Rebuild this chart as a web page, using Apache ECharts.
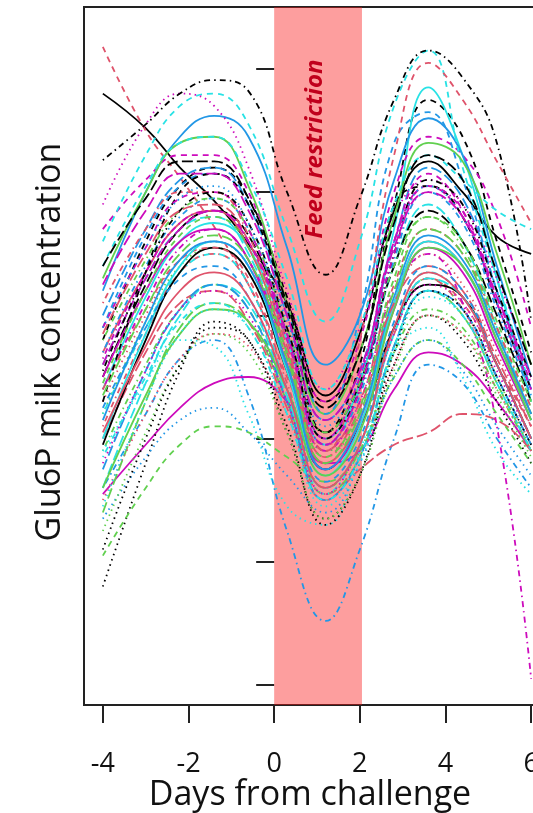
<!DOCTYPE html>
<html>
<head>
<meta charset="utf-8">
<script src="https://cdn.jsdelivr.net/npm/echarts@6/dist/echarts.min.js"></script>
<style>
  html, body { margin: 0; padding: 0; background: #fff; overflow: hidden; }
  /* the plot runs past the right edge of the window, as in the original crop */
  #chart { width: 550px; height: 813px; }
</style>
</head>
<body>
<div id="chart"></div>
<script>
// days at which each curve is sampled
const days = [-4, -3, -2.2, -1.4, -0.6, 0.3, 1.2, 2, 2.8, 3.6, 4.4, 5.2, 6];

// one row per cow (arbitrary units, ticks at 1..6)
const cows = [
  [5.80, 5.52, 5.20, 4.93, 4.58, 4.10, 3.35, 3.85, 4.85, 5.25, 5.00, 4.64, 4.50],
  [6.18, 5.50, 5.12, 4.72, 4.25, 3.60, 2.95, 3.20, 3.90, 4.30, 4.10, 3.60, 3.10],
  [3.20, 3.95, 4.40, 4.55, 4.35, 3.60, 2.90, 3.10, 3.90, 4.30, 4.05, 3.50, 2.90],
  [2.60, 3.20, 3.65, 3.80, 3.35, 2.25, 1.52, 2.10, 3.00, 3.60, 3.45, 3.00, 2.60],
  [3.60, 4.30, 4.70, 4.80, 4.50, 3.70, 2.95, 3.40, 4.40, 4.90, 4.60, 3.90, 3.20],
  [2.55, 2.95, 3.25, 3.45, 3.50, 3.30, 2.80, 2.90, 3.40, 3.70, 3.60, 3.30, 2.90],
  [3.80, 4.60, 5.05, 5.20, 4.95, 4.15, 3.30, 3.70, 4.90, 5.75, 5.45, 4.60, 3.70],
  [3.30, 4.00, 4.45, 4.60, 4.40, 3.65, 2.85, 3.20, 4.10, 4.50, 4.25, 3.70, 3.10],
  [2.90, 3.60, 4.05, 4.25, 4.05, 3.35, 2.60, 2.90, 3.70, 4.05, 3.90, 3.40, 2.90],
  [4.00, 4.70, 5.10, 5.20, 4.90, 4.00, 3.15, 3.55, 4.60, 5.20, 4.95, 4.20, 3.40],
  [3.40, 4.15, 4.60, 4.75, 4.55, 3.80, 3.00, 3.45, 4.70, 5.85, 5.30, 4.30, 3.30],
  [4.70, 5.10, 5.30, 5.30, 5.00, 4.10, 3.30, 3.80, 5.00, 5.45, 5.30, 4.80, 3.90],
  [1.80, 2.80, 3.55, 3.95, 3.80, 3.05, 2.35, 2.70, 3.60, 4.00, 3.80, 3.30, 2.80],
  [3.10, 3.85, 4.35, 4.50, 4.25, 3.45, 2.60, 2.95, 3.85, 4.30, 4.05, 3.50, 2.95],
  [2.40, 3.30, 3.90, 4.10, 3.95, 3.30, 2.55, 2.85, 3.75, 4.20, 4.00, 3.45, 2.90],
  [4.20, 5.00, 5.45, 5.62, 5.45, 4.55, 3.60, 4.00, 5.10, 5.60, 5.30, 4.40, 3.50],
  [4.60, 5.30, 5.70, 5.80, 5.55, 4.70, 3.95, 4.60, 5.70, 6.15, 5.20, 4.30, 3.40],
  [4.90, 5.55, 5.80, 5.70, 5.20, 4.20, 3.40, 3.90, 4.80, 5.10, 4.90, 4.30, 3.60],
  [5.26, 5.55, 5.80, 5.91, 5.82, 5.00, 4.33, 4.95, 5.75, 6.15, 5.93, 5.40, 3.95],
  [3.00, 3.70, 4.10, 4.20, 3.95, 3.25, 2.50, 2.75, 2.95, 3.05, 3.20, 3.15, 2.90],
  [4.30, 5.00, 5.40, 5.45, 5.05, 4.10, 3.20, 3.70, 4.80, 5.40, 5.25, 4.50, 3.60],
  [3.90, 4.65, 5.05, 5.15, 4.90, 4.05, 3.20, 4.00, 5.40, 5.65, 5.10, 4.20, 3.40],
  [2.90, 3.45, 3.80, 3.75, 3.20, 2.45, 2.30, 2.90, 3.70, 3.90, 3.50, 2.90, 2.55],
  [3.40, 4.10, 4.55, 4.70, 4.45, 3.70, 2.90, 3.30, 4.20, 4.50, 4.10, 3.10, 1.05],
  [3.50, 4.25, 4.70, 4.85, 4.65, 3.85, 3.05, 3.45, 4.40, 4.85, 4.60, 4.00, 3.30],
  [3.70, 4.35, 4.75, 4.85, 4.55, 3.70, 2.80, 3.15, 4.10, 4.60, 4.40, 3.80, 3.20],
  [2.05, 2.60, 2.95, 3.10, 3.05, 2.85, 2.65, 2.90, 3.50, 3.80, 3.60, 3.20, 2.80],
  [2.35, 2.85, 3.15, 3.25, 3.05, 2.70, 2.40, 2.80, 3.50, 3.80, 3.55, 3.10, 2.70],
  [3.20, 3.90, 4.35, 4.50, 4.25, 3.40, 2.55, 2.95, 3.90, 4.35, 4.15, 3.60, 3.00],
  [3.60, 4.30, 4.70, 4.85, 4.60, 3.85, 3.00, 3.50, 4.60, 5.05, 4.80, 4.10, 3.40],
  [2.95, 3.80, 4.35, 4.55, 4.35, 3.55, 2.75, 3.10, 3.90, 4.25, 4.15, 3.60, 3.00],
  [3.40, 4.05, 4.45, 4.55, 4.30, 3.50, 2.90, 3.80, 5.30, 6.05, 5.75, 5.25, 4.75],
  [2.25, 3.05, 3.60, 3.85, 3.70, 3.05, 2.35, 2.70, 3.55, 4.00, 3.85, 3.35, 2.85],
  [3.70, 4.40, 4.80, 4.95, 4.70, 3.85, 2.95, 3.35, 4.45, 5.00, 4.75, 4.05, 3.35],
  [2.60, 3.45, 4.00, 4.25, 4.10, 3.35, 2.60, 2.95, 3.85, 4.30, 4.15, 3.60, 3.00],
  [3.50, 4.20, 4.60, 4.70, 4.45, 3.60, 2.75, 3.10, 4.05, 4.55, 4.35, 3.75, 3.15],
  [3.30, 4.35, 5.00, 5.15, 4.90, 4.05, 3.05, 3.60, 4.90, 5.05, 4.80, 4.10, 3.40],
  [2.50, 3.20, 3.65, 3.85, 3.75, 3.20, 2.55, 2.85, 3.60, 4.00, 3.85, 3.40, 2.90],
  [3.80, 4.45, 4.85, 4.95, 4.70, 3.90, 3.05, 3.45, 4.40, 4.80, 4.55, 3.90, 3.25],
  [2.75, 3.55, 4.05, 4.25, 4.05, 3.30, 2.50, 2.85, 3.75, 4.20, 4.05, 3.50, 2.95],
  [3.00, 3.85, 4.40, 4.60, 4.40, 3.55, 2.70, 3.10, 4.10, 4.60, 4.40, 3.80, 3.15],
  [3.90, 4.55, 4.95, 5.00, 4.70, 3.85, 2.95, 3.40, 4.60, 5.15, 4.85, 4.10, 3.40],
  [2.10, 3.00, 3.60, 3.90, 3.80, 3.10, 2.30, 2.70, 3.70, 4.20, 4.05, 3.50, 2.95],
  [4.10, 4.70, 5.00, 5.00, 4.65, 3.80, 2.90, 3.30, 4.25, 4.70, 4.50, 3.90, 3.25],
  [3.35, 4.05, 4.50, 4.65, 4.45, 3.65, 2.80, 3.20, 4.20, 4.70, 4.50, 3.85, 3.20],
  [3.15, 3.95, 4.45, 4.60, 4.40, 3.60, 2.75, 3.15, 4.15, 4.65, 4.45, 3.85, 3.20],
  [4.40, 5.05, 5.40, 5.45, 5.10, 4.30, 3.40, 3.90, 4.90, 5.30, 5.10, 4.85, 4.70],
  [2.80, 3.55, 4.05, 4.20, 4.00, 3.30, 2.55, 2.95, 3.85, 4.25, 4.10, 3.55, 3.00],
  [3.55, 4.35, 4.85, 5.00, 4.75, 3.90, 3.00, 3.40, 4.50, 5.10, 4.90, 4.20, 3.50],
  [3.85, 4.50, 4.85, 4.90, 4.60, 3.75, 2.85, 3.25, 4.10, 4.40, 4.20, 3.65, 3.10],
  [2.60, 3.35, 3.85, 4.05, 3.95, 3.40, 2.70, 3.05, 4.05, 4.55, 4.40, 3.80, 3.15],
  [3.25, 3.90, 4.30, 4.40, 4.15, 3.40, 2.65, 3.00, 3.95, 4.40, 4.20, 3.60, 3.00],
  [2.45, 3.30, 3.85, 4.05, 3.90, 3.20, 2.45, 2.80, 3.70, 4.15, 4.00, 3.45, 2.90],
  [3.65, 4.35, 4.75, 4.85, 4.60, 3.80, 2.95, 3.40, 4.50, 5.05, 4.85, 4.15, 3.45],
  [4.40, 4.95, 5.25, 5.25, 4.95, 4.10, 3.25, 3.70, 4.75, 5.30, 5.10, 4.35, 3.60],
  [3.05, 3.75, 4.20, 4.35, 4.15, 3.40, 2.60, 2.95, 3.90, 4.35, 4.15, 3.60, 3.00],
  [3.45, 4.20, 4.65, 4.80, 4.55, 3.70, 2.85, 3.25, 4.30, 4.80, 4.60, 3.95, 3.30],
  [3.90, 4.55, 4.95, 5.05, 4.75, 3.95, 3.10, 3.50, 4.55, 5.05, 4.80, 4.10, 3.40],
  [2.85, 3.50, 3.95, 4.10, 3.90, 3.20, 2.50, 2.85, 3.75, 4.20, 4.00, 3.45, 2.90],
  [4.25, 4.85, 5.15, 5.15, 4.85, 4.00, 3.15, 3.55, 4.55, 5.00, 4.80, 4.15, 3.50]
];

const xTicks = [-4, -2, 0, 2, 4, 6];
const yTicks = [1, 2, 3, 4, 5, 6];
const restriction = [0, 2.05];

// R palette + matplot line types, cycled like matplot does
const cols = ["#000000", "#DF536B", "#61D04F", "#2297E6", "#28E2E5", "#CD0BBC"];
const ltys = ["solid", [6, 5], [1.5, 4], [1.5, 4, 6, 4], [11, 4]];

const font = "'Open Sans', 'Liberation Sans', sans-serif";

const chart = echarts.init(document.getElementById("chart"), null, { renderer: "canvas" });

const series = cows.map((vals, i) => ({
  type: "line",
  data: vals.map((v, j) => [days[j], v]),
  smooth: 0.45,
  showSymbol: false,
  silent: true,
  z: 2,
  lineStyle: { color: cols[i % 6], width: 1.8, type: ltys[i % 5] }
}));

// the feed restriction window, drawn over the curves like the original
series.push({
  type: "line",
  data: [],
  z: 10,
  silent: true,
  markArea: {
    silent: true,
    itemStyle: { color: "rgba(250,25,25,0.42)" },
    data: [[{ xAxis: restriction[0] }, { xAxis: restriction[1] }]]
  }
});

const option = {
  animation: false,
  backgroundColor: "#fff",
  grid: {
    left: 84, top: 7, right: 0, bottom: 108,
    show: true, borderColor: "#222", borderWidth: 2, backgroundColor: "transparent"
  },
  xAxis: {
    type: "value", min: -4.44, max: 6.44,
    axisLine: { show: false },
    splitLine: { show: false },
    axisTick: { show: true, customValues: xTicks, length: 18, lineStyle: { color: "#222", width: 2 } },
    axisLabel: { customValues: xTicks, color: "#111", fontSize: 27, fontFamily: font, margin: 46 }
  },
  yAxis: {
    type: "value", min: 0.838, max: 6.503,
    axisLine: { show: false },
    splitLine: { show: false },
    axisTick: { show: true, customValues: yTicks, length: 18, lineStyle: { color: "#222", width: 2 } },
    axisLabel: { show: false }
  },
  graphic: [
    {
      type: "text", x: 310, y: 795, z: 20,
      style: { text: "Days from challenge", font: "34px " + font, fill: "#111", textAlign: "center", textVerticalAlign: "middle" }
    },
    {
      type: "text", x: 50, y: 342, rotation: Math.PI / 2, z: 20,
      style: { text: "Glu6P milk concentration", font: "34px " + font, fill: "#111", textAlign: "center", textVerticalAlign: "middle" }
    },
    {
      type: "text", x: 315, y: 149, rotation: Math.PI / 2, z: 20,
      style: { text: "Feed restriction", font: "italic bold 24px " + font, fill: "#C0001C", textAlign: "center", textVerticalAlign: "middle" }
    }
  ],
  series
};

chart.setOption(option);
window.addEventListener("resize", () => chart.resize());
</script>
</body>
</html>
